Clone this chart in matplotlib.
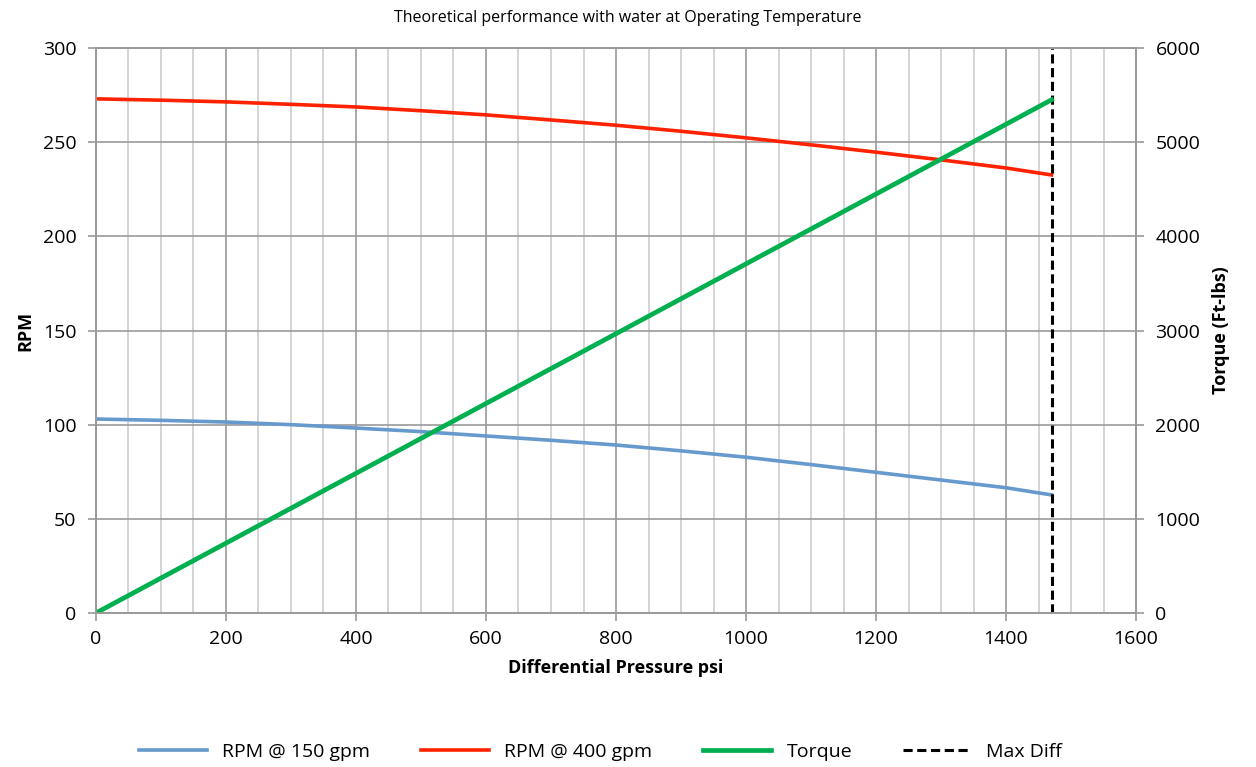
import matplotlib
matplotlib.use('Agg')
import matplotlib.pyplot as plt
from matplotlib.ticker import MultipleLocator

# values
pressure = [0, 100, 200, 300, 400, 500, 600, 700, 800, 900, 1000, 1100, 1200, 1300, 1400, 1470]
rpm_150 = [103, 102.3, 101.4, 100, 98.2, 96.3, 94, 91.7, 89.2, 86.1, 82.7, 78.8, 74.7, 70.6, 66.5, 62.7]
rpm_400 = [273, 272.3, 271.4, 270.1, 268.7, 266.7, 264.5, 261.8, 259, 255.8, 252.3, 248.6, 244.7, 240.6, 236.3, 232.6]
torque_p = [0, 1470]
torque = [0, 5450]
max_diff = 1470

labels = ['RPM @ 150 gpm', 'RPM @ 400 gpm', 'Torque', 'Max Diff']

plt.rcParams['font.family'] = ['Open Sans', 'DejaVu Sans']

fig = plt.figure(figsize=(12.56, 7.67), dpi=100)
ax = fig.add_axes([0.0764, 0.2008, 0.8281, 0.7366])
ax2 = ax.twinx()

major_c = '#9a9a9a'
minor_c = '#cdcdcd'

ax.set_xlim(0, 1600)
ax.set_ylim(0, 300)
ax2.set_ylim(0, 6000)
ax.xaxis.set_major_locator(MultipleLocator(200))
ax.xaxis.set_minor_locator(MultipleLocator(50))
ax.yaxis.set_major_locator(MultipleLocator(50))
ax2.yaxis.set_major_locator(MultipleLocator(1000))

ax.grid(which='minor', axis='x', color=minor_c, lw=1.2)
ax.grid(which='major', axis='x', color=major_c, lw=1.2)
ax.grid(which='major', axis='y', color=major_c, lw=1.2)
ax.set_axisbelow(True)

for a in (ax, ax2):
    for s in a.spines.values():
        s.set_color(major_c)
        s.set_linewidth(1.2)
    a.tick_params(which='major', length=6, width=1.2, color=major_c, labelsize=14)
    a.tick_params(which='minor', length=0)
ax.tick_params(axis='x', pad=6)
ax.tick_params(axis='y', pad=8)
ax2.tick_params(axis='y', pad=8)

l1, = ax.plot(pressure, rpm_150, color='#6699cc', lw=2.6)
l2, = ax.plot(pressure, rpm_400, color='#ff2200', lw=2.6)
l3, = ax2.plot(torque_p, torque, color='#00b050', lw=3.4)
l4 = ax.axvline(max_diff, color='black', lw=2.2, ls=(0, (3, 1.5)))

ax.set_xlabel('Differential Pressure psi', fontsize=13, fontweight='bold', labelpad=8)
ax.set_ylabel('RPM', fontsize=13, fontweight='bold', labelpad=6)
ax2.set_ylabel('Torque (Ft-lbs)', fontsize=13, fontweight='bold', labelpad=8)

fig.text(0.5, 0.977, 'Theoretical performance with water at Operating Temperature',
         ha='center', va='center', fontsize=11.5)

fig.legend([l1, l2, l3, l4], labels, loc='center', bbox_to_anchor=(0.478, 0.02),
           ncol=4, frameon=False, fontsize=14, handlelength=3.5, columnspacing=2.6)

fig.savefig('out.png', dpi=100)
